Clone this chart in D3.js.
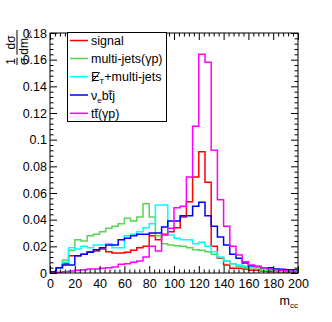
<!DOCTYPE html>
<html>
<head>
<meta charset="utf-8">
<script src="https://cdn.jsdelivr.net/npm/d3@7"></script>
<style>
  body { margin: 0; background: #fff; }
  svg { display: block; font-family: "Liberation Sans", Arial, sans-serif; }
</style>
</head>
<body>
<svg id="chart" width="332" height="322"></svg>
<script>
// 40 bins of width 5 GeV between 0 and 200
var binEdges = d3.range(0, 201, 5);

var signal   = [0.001, 0.004, 0.007, 0.013, 0.013, 0.014, 0.016, 0.0165, 0.018, 0.016,
                0.015, 0.015, 0.0155, 0.017, 0.019, 0.020, 0.028, 0.025, 0.029, 0.031,
                0.034, 0.042, 0.0535, 0.072, 0.091, 0.068, 0.020, 0.011, 0.006, 0.0035,
                0.0035, 0.003, 0.002, 0.002, 0.0015, 0.001, 0.001, 0.001, 0.0005, 0.0005];
var multiJets = [0.001, 0.004, 0.0097, 0.017, 0.025, 0.024, 0.028, 0.029, 0.031, 0.0335,
                0.035, 0.037, 0.041, 0.039, 0.042, 0.052, 0.042, 0.028, 0.022, 0.021,
                0.0205, 0.020, 0.019, 0.0175, 0.017, 0.016, 0.014, 0.0115, 0.009, 0.007,
                0.005, 0.004, 0.003, 0.003, 0.002, 0.002, 0.0015, 0.001, 0.001, 0.001];
var etMulti  = [0.001, 0.004, 0.008, 0.019, 0.018, 0.020, 0.019, 0.021, 0.021, 0.022,
                0.019, 0.019, 0.028, 0.029, 0.031, 0.034, 0.037, 0.051, 0.051, 0.0285,
                0.026, 0.025, 0.025, 0.022, 0.023, 0.020, 0.016, 0.012, 0.009, 0.007,
                0.006, 0.005, 0.0045, 0.0045, 0.004, 0.0035, 0.003, 0.002, 0.0015, 0.001];
var nuebtj   = [0.001, 0.004, 0.006, 0.006, 0.013, 0.014, 0.0155, 0.0175, 0.019, 0.021,
                0.021, 0.025, 0.026, 0.028, 0.029, 0.029, 0.030, 0.030, 0.0345, 0.039,
                0.039, 0.043, 0.043, 0.050, 0.053, 0.043, 0.035, 0.027, 0.021, 0.014,
                0.011, 0.0075, 0.0055, 0.0048, 0.004, 0.004, 0.003, 0.0028, 0.0025, 0.0025];
var ttbar    = [0.0002, 0.0005, 0.001, 0.0015, 0.002, 0.0025, 0.003, 0.003, 0.0035, 0.004,
                0.0045, 0.0065, 0.007, 0.008, 0.009, 0.012, 0.020, 0.0165, 0.0285, 0.0335,
                0.049, 0.050, 0.072, 0.110, 0.164, 0.158, 0.092, 0.055, 0.035, 0.020,
                0.0135, 0.0085, 0.006, 0.005, 0.004, 0.003, 0.0025, 0.002, 0.0015, 0.001];

var seriesNames  = ["signal", "multi-jets", "etmulti", "nuebtj", "ttbar"];
var seriesColors = ["#ff0000", "#59d454", "#00ffff", "#0000ff", "#ff00ff"];
var seriesValues = [signal, multiJets, etMulti, nuebtj, ttbar];

var xTicks = d3.range(0, 201, 20);
var yTicks = [0, 0.02, 0.04, 0.06, 0.08, 0.1, 0.12, 0.14, 0.16, 0.18];

var frame = {left: 50, right: 298, top: 33, bottom: 273};
var svg = d3.select("#chart");

var x = d3.scaleLinear().domain([0, 200]).range([frame.left, frame.right]);
var y = d3.scaleLinear().domain([0, 0.18]).range([frame.bottom, frame.top]);

svg.append("clipPath").attr("id", "plotclip")
  .append("rect")
    .attr("x", frame.left).attr("y", frame.top)
    .attr("width", frame.right - frame.left).attr("height", frame.bottom - frame.top);

// histograms, drawn as step outlines
var histG = svg.append("g").attr("clip-path", "url(#plotclip)");
seriesValues.forEach(function(vals, i) {
  var pts = [[binEdges[0], 0]];
  vals.forEach(function(v, k) {
    pts.push([binEdges[k], v]);
    pts.push([binEdges[k + 1], v]);
  });
  pts.push([binEdges[binEdges.length - 1], 0]);
  histG.append("path")
      .attr("class", "hist " + seriesNames[i])
      .attr("d", d3.line().x(function(d) { return x(d[0]); }).y(function(d) { return y(d[1]); })(pts))
      .attr("fill", "none")
      .attr("stroke", seriesColors[i])
      .attr("stroke-width", 1.5)
      .attr("stroke-linejoin", "miter");
});

// axes: ROOT style, ticks pointing inward on all four sides
var majorLen = 7, minorLen = 3.5;
var xMinor = d3.range(0, 201, 4).filter(function(v) { return v % 20 !== 0; });
var yMinor = d3.range(0, 46).map(function(k) { return +(k * 0.004).toFixed(3); })
  .filter(function(v) { return Math.round(v * 1000) % 20 !== 0 && v <= 0.18; });

function addAxis(axisFn, scale, ticks, len, fmt, transform, cls) {
  var g = svg.append("g")
      .attr("class", "axis " + cls)
      .attr("transform", transform)
      .call(axisFn(scale).tickValues(ticks).tickSizeInner(-len).tickSizeOuter(0)
        .tickPadding(len === majorLen ? 3 : 0).tickFormat(fmt));
  g.select(".domain").remove();
  g.selectAll("line").attr("stroke", "#000").attr("stroke-width", 1);
  return g;
}
var noLab = function() { return ""; };
var xAx = addAxis(d3.axisBottom, x, xTicks, majorLen, d3.format("d"), "translate(0," + frame.bottom + ")", "bottom");
addAxis(d3.axisBottom, x, xMinor, minorLen, noLab, "translate(0," + frame.bottom + ")", "bottom minor");
addAxis(d3.axisTop, x, xTicks, majorLen, noLab, "translate(0," + frame.top + ")", "top");
addAxis(d3.axisTop, x, xMinor, minorLen, noLab, "translate(0," + frame.top + ")", "top minor");
var yAx = addAxis(d3.axisLeft, y, yTicks, majorLen, function(d) { return d === 0 ? "0" : String(+d.toFixed(2)); },
  "translate(" + frame.left + ",0)", "left");
addAxis(d3.axisLeft, y, yMinor, minorLen, noLab, "translate(" + frame.left + ",0)", "left minor");
addAxis(d3.axisRight, y, yTicks, majorLen, noLab, "translate(" + frame.right + ",0)", "right");
addAxis(d3.axisRight, y, yMinor, minorLen, noLab, "translate(" + frame.right + ",0)", "right minor");

xAx.selectAll("text").attr("font-size", 12.5).attr("font-family", "Liberation Sans, Arial, sans-serif")
  .attr("fill", "#000").attr("y", 6).attr("dy", "0.71em");
yAx.selectAll("text").attr("font-size", 12.5).attr("font-family", "Liberation Sans, Arial, sans-serif")
  .attr("fill", "#000").attr("x", -3);

// frame
svg.append("rect")
    .attr("x", frame.left).attr("y", frame.top)
    .attr("width", frame.right - frame.left).attr("height", frame.bottom - frame.top)
    .attr("fill", "none").attr("stroke", "#000").attr("stroke-width", 1);

// x title m_cc
var xt = svg.append("text")
    .attr("x", frame.right).attr("y", 305)
    .attr("text-anchor", "end").attr("font-size", 12.5);
xt.append("tspan").text("m");
xt.append("tspan").attr("font-size", 8).attr("dy", 3).text("cc");

// y title: 1/sigma dsigma/dm_cc, rotated
var yt = svg.append("g").attr("transform", "translate(17,30) rotate(-90)");
function frac(g, x0, num, den, sub) {
  var n = g.append("text").attr("y", -2.5).attr("font-size", 12).text(num);
  var d = g.append("text").attr("y", 10.5).attr("font-size", 12).text(den);
  if (sub) d.append("tspan").attr("font-size", 8).attr("dy", 3).text(sub);
  var wn = n.node().getComputedTextLength(), wd = d.node().getComputedTextLength();
  var w = Math.max(wn, wd);
  n.attr("x", x0 + (w - wn) / 2);
  d.attr("x", x0 + (w - wd) / 2);
  g.append("line").attr("x1", x0).attr("x2", x0 + w).attr("y1", 0).attr("y2", 0)
    .attr("stroke", "#000").attr("stroke-width", 1);
  return w;
}
var tmp = yt.append("g");
var w1 = frac(tmp, 0, "1", "\u03c3");
var w2 = frac(tmp, w1 + 3, "d\u03c3", "dm", "cc");
tmp.attr("transform", "translate(" + (-(w1 + 3 + w2)) + ",0)");

// legend
var legend = {x0: 67.5, x1: 166.5, y0: 32.5, y1: 121.5};
svg.append("rect")
    .attr("x", legend.x0).attr("y", legend.y0)
    .attr("width", legend.x1 - legend.x0).attr("height", legend.y1 - legend.y0)
    .attr("fill", "#fff").attr("stroke", "#000").attr("stroke-width", 1);

var legRows = [40.5, 58.5, 76.7, 95, 113.3];
var legG = svg.append("g").attr("font-size", 12.5);
legRows.forEach(function(ry, i) {
  legG.append("line").attr("x1", 70).attr("x2", 88).attr("y1", ry).attr("y2", ry)
    .attr("stroke", seriesColors[i]).attr("stroke-width", 1.5);
});
function legText(i) {
  return legG.append("text").attr("x", 91).attr("y", legRows[i] + 4.5);
}
legText(0).text("signal");
legText(1).text("multi-jets(\u03b3p)");

var t2 = legText(2);
t2.append("tspan").text("E");
t2.append("tspan").attr("font-size", 8).attr("dy", 3).text("T");
t2.append("tspan").attr("dy", -3).text("+multi-jets");

var t3 = legText(3);
t3.append("tspan").text("\u03bd");
t3.append("tspan").attr("font-size", 8).attr("dy", 3).text("e");
t3.append("tspan").attr("dy", -3).text("btj");

var t4 = legText(4);
t4.text("tt(\u03b3p)");

// decorations: slash through E, bars over anti-top
function charBox(t, idx) { return t.node().getExtentOfChar(idx); }
var eb = charBox(t2, 0);
legG.append("line")
    .attr("x1", eb.x + 1).attr("y1", eb.y + eb.height - 2.5)
    .attr("x2", eb.x + eb.width + 0.5).attr("y2", eb.y + 2)
    .attr("stroke", "#000").attr("stroke-width", 1);
[[t3, 3], [t4, 1]].forEach(function(p) {
  var b = charBox(p[0], p[1]);
  legG.append("line")
      .attr("x1", b.x).attr("x2", b.x + b.width + 0.5)
      .attr("y1", b.y + 2.5).attr("y2", b.y + 2.5)
      .attr("stroke", "#000").attr("stroke-width", 1);
});
</script>
</body>
</html>
